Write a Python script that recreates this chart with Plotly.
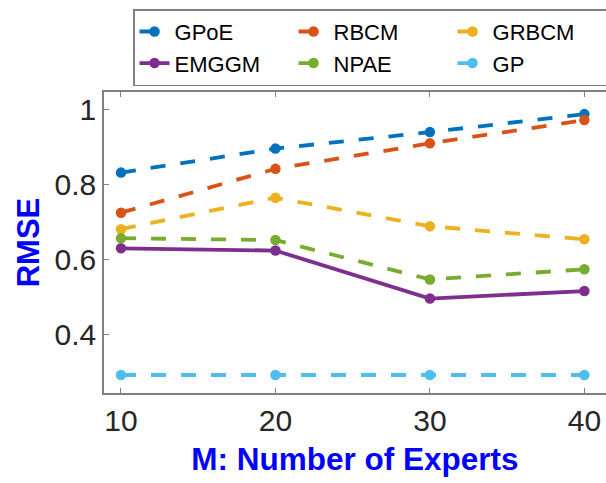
import plotly.graph_objects as go

experts = [10, 20, 30, 40]
gpoe = [0.833, 0.897, 0.941, 0.989]
rbcm = [0.726, 0.843, 0.911, 0.973]
grbcm = [0.682, 0.766, 0.690, 0.655]
emggm = [0.631, 0.625, 0.497, 0.517]
npae = [0.658, 0.653, 0.548, 0.575]
gp = [0.293, 0.293, 0.293, 0.293]

series = [
    ("GPoE", gpoe, "#0072BD", "15px,15px"),
    ("RBCM", rbcm, "#D95319", "15px,15px"),
    ("GRBCM", grbcm, "#EDB120", "15px,15px"),
    ("EMGGM", emggm, "#7E2F8E", "solid"),
    ("NPAE", npae, "#77AC30", "15px,15px"),
    ("GP", gp, "#4DBEEE", "15px,15px"),
]

fig = go.Figure()
for name, vals, col, dash in series:
    fig.add_trace(go.Scatter(
        x=experts, y=vals, name=name, mode="lines+markers",
        line=dict(color=col, width=3.8, dash=dash),
        marker=dict(color=col, size=10.5, symbol="circle"),
    ))

axis_common = dict(
    showgrid=False, zeroline=False, showline=True, linecolor="#808080",
    linewidth=1.5, ticks="inside", ticklen=5,
    tickcolor="#808080", tickwidth=1,
    tickfont=dict(family="Liberation Sans, Arial", size=30, color="#262626"),
)

fig.update_layout(
    width=606, height=483,
    margin=dict(l=104, r=0, t=92, b=90),
    plot_bgcolor="white", paper_bgcolor="white",
    xaxis=dict(range=[8.9, 41.4], tickvals=[10, 20, 30, 40], mirror="ticks",
               title=dict(text="<b>M: Number of Experts</b>", standoff=12,
                          font=dict(family="Liberation Sans, Arial", size=31.5, color="#0000FF")),
               **axis_common),
    yaxis=dict(range=[0.245, 1.048], tickvals=[0.4, 0.6, 0.8, 1.0], mirror=False,
               ticktext=["0.4", "0.6", "0.8", "1"],
               title=dict(text="<b>RMSE</b>", standoff=6,
                          font=dict(family="Liberation Sans, Arial", size=31, color="#0000FF")),
               **axis_common),
    legend=dict(
        orientation="h", xref="container", yref="container",
        x=0.2195, xanchor="left", y=0.981, yanchor="top",
        bordercolor="#808080", borderwidth=1.5, bgcolor="white",
        font=dict(family="Liberation Sans, Arial", size=22, color="black"),
        entrywidth=114, entrywidthmode="pixels", tracegroupgap=0,
        itemwidth=30,
    ),
    showlegend=True,
)

fig.write_html("out.html")
